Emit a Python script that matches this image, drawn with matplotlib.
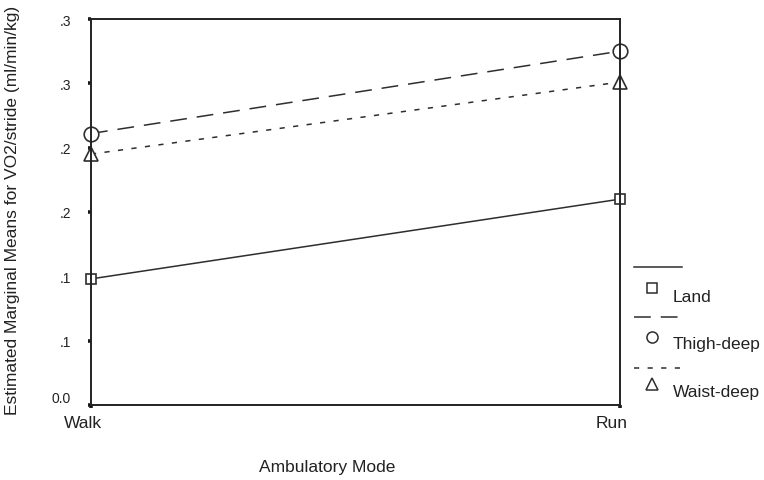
import matplotlib
matplotlib.use("Agg")
import matplotlib.pyplot as plt
import matplotlib.transforms as mtransforms

plt.rcParams['font.family'] = ['Liberation Sans', 'DejaVu Sans']

# estimated marginal means, VO2 per stride
modes = ["Walk", "Run"]
land = [0.098, 0.160]
thigh_deep = [0.211, 0.275]
waist_deep = [0.195, 0.251]

yticks = [0.0, 0.05, 0.10, 0.15, 0.20, 0.25, 0.30]
ytick_labels = ["0.0", ".1", ".1", ".2", ".2", ".3", ".3"]

W, H = 764, 481
fig = plt.figure(figsize=(W / 100, H / 100), dpi=100)
ax = fig.add_axes([91 / W, 75 / H, 529 / W, 386 / H])

ink = "#2e2e2e"
long_dash = (0, (11, 6.5))
short_dash = (0, (3.4, 5.5))

series = [
    ("Land", land, "-", "s", 7.5),
    ("Thigh-deep", thigh_deep, long_dash, "o", 10.5),
    ("Waist-deep", waist_deep, short_dash, "^", 10.5),
]

xs = list(range(len(modes)))
for name, vals, ls, mk, ms in series:
    ax.plot(xs, vals, color=ink, lw=1.1, linestyle=ls, marker=mk, ms=ms,
            mfc="white", mec=ink, mew=1.2, clip_on=False, zorder=2)

ax.set_xlim(0, 1)
ax.set_ylim(0, 0.30)
ax.set_xticks(xs)
ax.set_xticklabels(modes, fontsize=12.5, color="#222222")
ax.set_yticks(yticks)
ax.set_yticklabels(ytick_labels, fontsize=10, color="#222222")

for sp in ax.spines.values():
    sp.set_linewidth(1.4)
    sp.set_color("#222222")
    sp.set_zorder(3)

ax.tick_params(axis="both", direction="out", length=2.4, width=2.6, color="#1a1a1a")
ax.tick_params(axis="y", pad=12)
ax.tick_params(axis="x", pad=5)

# nudge the category labels a little left, and the zero label up
shift = mtransforms.ScaledTranslation(-8 / 100, 0, fig.dpi_scale_trans)
for lab in ax.get_xticklabels():
    lab.set_transform(lab.get_transform() + shift)
lift = mtransforms.ScaledTranslation(0, 8 / 100, fig.dpi_scale_trans)
zero = ax.get_yticklabels()[0]
zero.set_transform(zero.get_transform() + lift)

fig.text(13 / W, 1 - 210 / H, "Estimated Marginal Means for VO2/stride (ml/min/kg)",
         rotation=90, ha="center", va="center", fontsize=12.5, color="#222222")
fig.text(327 / W, 1 - 468 / H, "Ambulatory Mode", ha="center", va="center",
         fontsize=12.5, color="#222222")

# legend: line sample above, marker and name below
rows = [(268, 289, 298, 6.5), (318, 338, 345, 8), (369, 385, 392, 8)]
for (name, vals, ls, mk, ms), (ly, my, ty, lms) in zip(series, rows):
    fig.add_artist(plt.Line2D([634 / W, 682 / W], [1 - ly / H, 1 - ly / H],
                              transform=fig.transFigure, color=ink, lw=1.1, linestyle=ls))
    fig.add_artist(plt.Line2D([652 / W], [1 - my / H], transform=fig.transFigure,
                              marker=mk, ms=lms, mfc="white", mec=ink, mew=1.1,
                              linestyle="none"))
    fig.text(673 / W, 1 - ty / H, name, ha="left", va="center",
             fontsize=12.5, color="#222222")

fig.savefig("out.png", dpi=100)
